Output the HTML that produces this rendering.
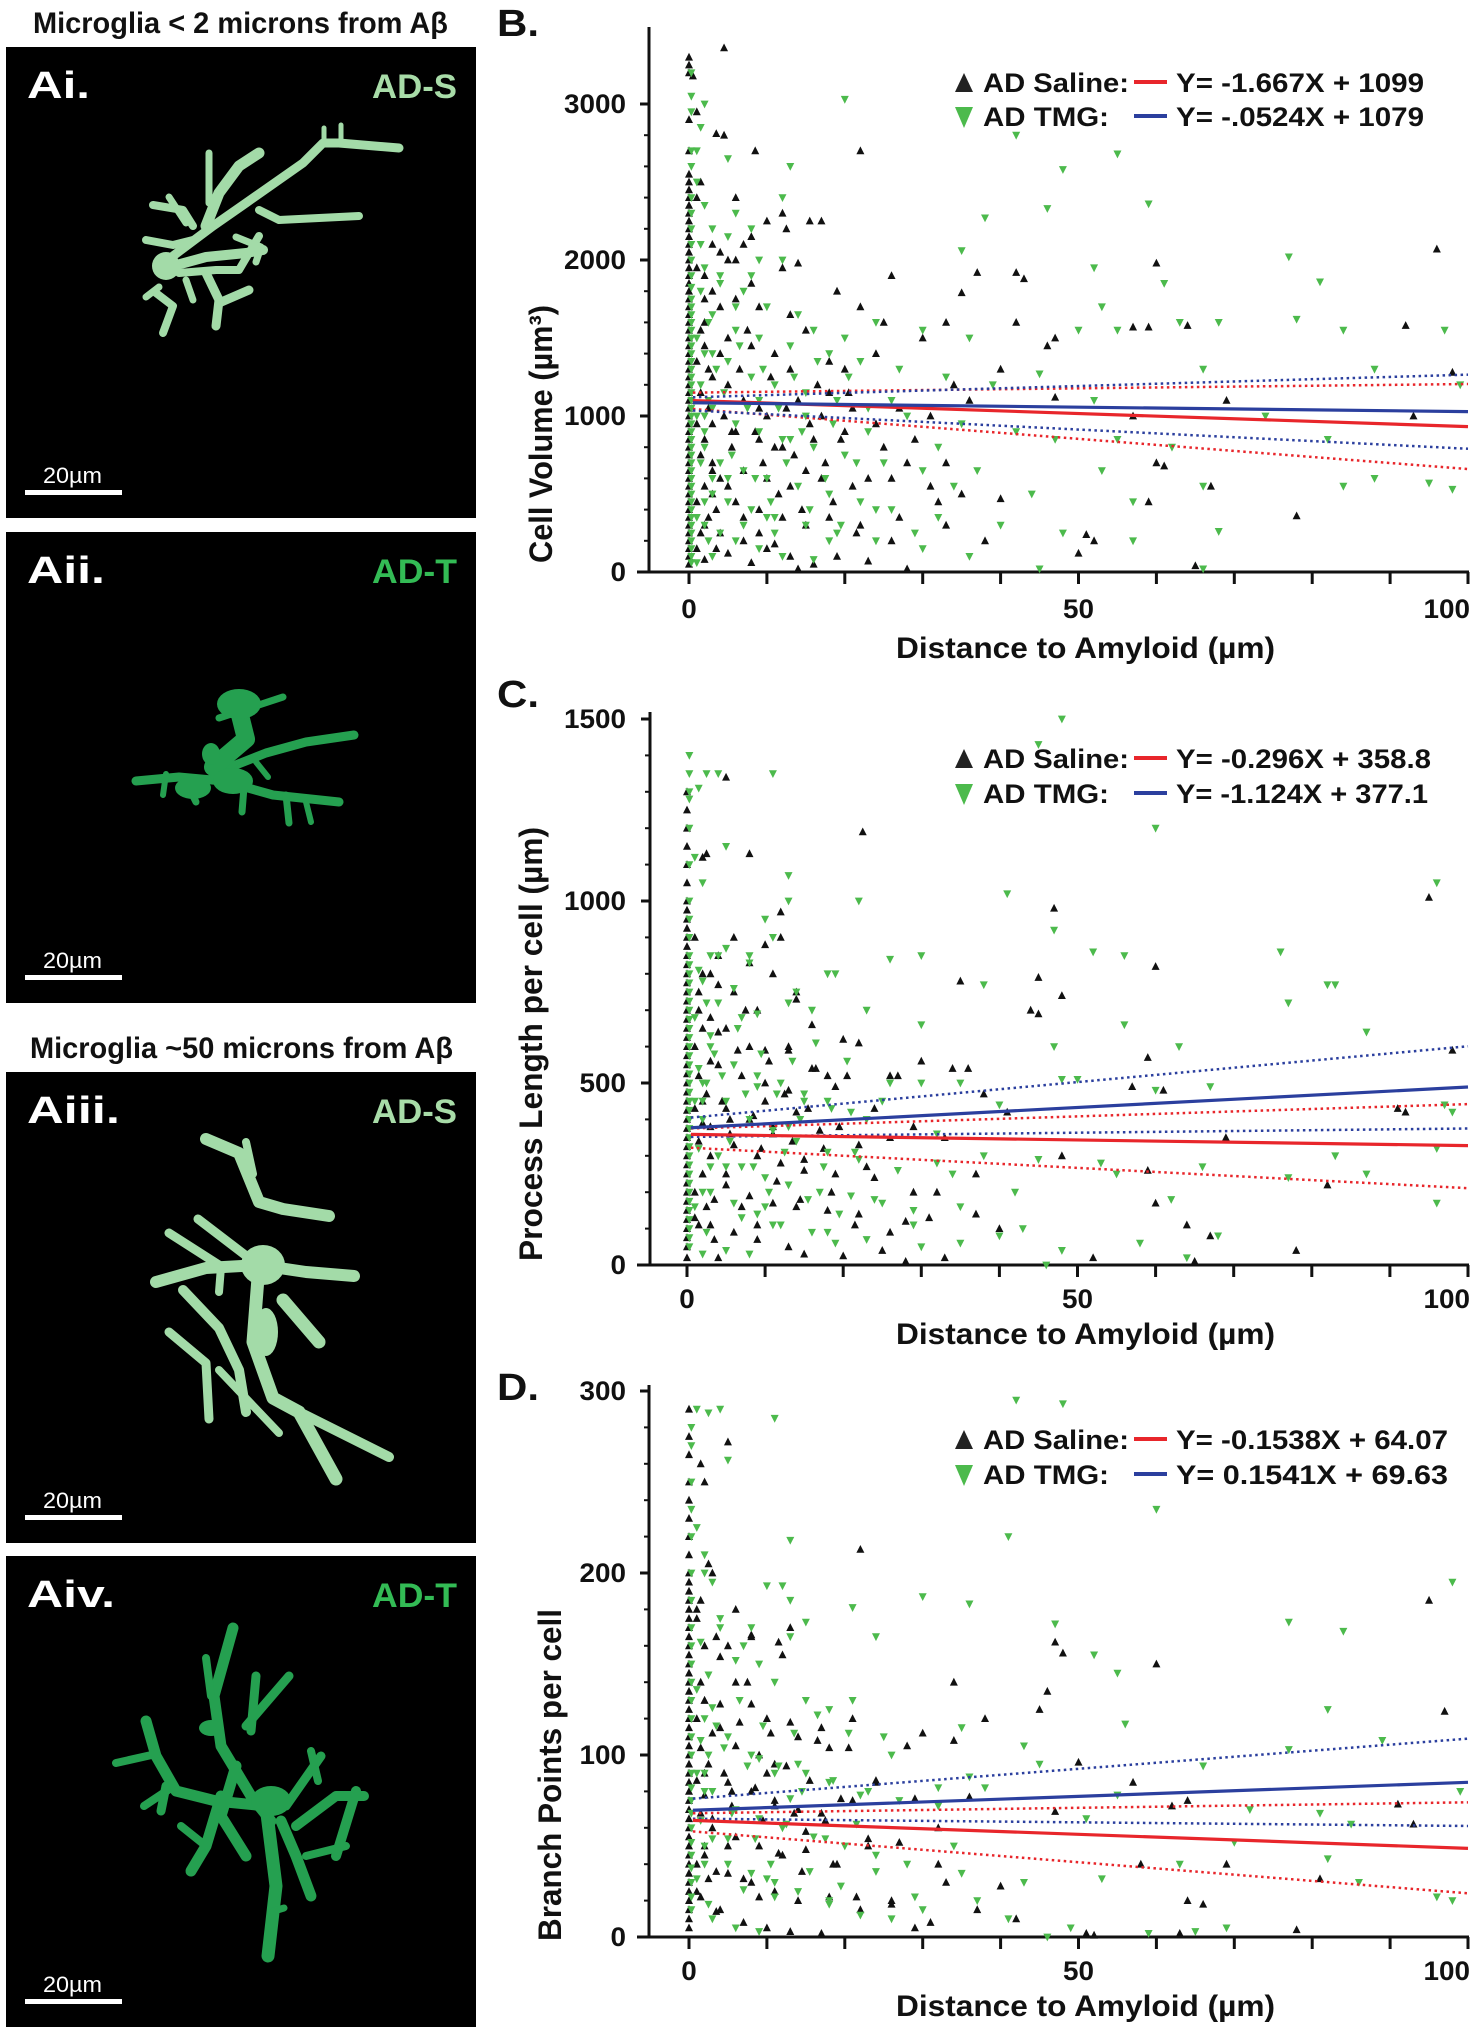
<!DOCTYPE html>
<html><head><meta charset="utf-8">
<style>
html,body{margin:0;padding:0;background:#fff;}
svg{display:block;}
text{font-family:"Liberation Sans",Arial,sans-serif;font-weight:bold;}
</style></head>
<body>
<svg id="fig" width="1477" height="2034" viewBox="0 0 1477 2034" xmlns="http://www.w3.org/2000/svg">
<rect x="0" y="0" width="1477" height="2034" fill="#fff"/>
<text x="33" y="33" font-size="30" textLength="415" lengthAdjust="spacingAndGlyphs" fill="#111">Microglia &lt; 2 microns from Aβ</text>
<text x="30" y="1058" font-size="30" textLength="423" lengthAdjust="spacingAndGlyphs" fill="#111">Microglia ~50  microns from Aβ</text>
<g id="panels"></g>
<g id="charts"></g>
</svg>
<script>
// ===== Chart B data (Cell Volume) =====
const bSalineX0 = [3300,3250,3200,2900,2700,2550,2500,2450,2400,2350,2300,2250,2200,2150,2100,2050,2000,1950,1900,1850,1800,1750,1700,1650,1600,1550,1500,1450,1400,1350,1300,1250,1200,1150,1100,1050,1000,950,900,850,800,750,700,650,600,550,500,450,400,350,300,250,200,150,100,50];
const bSaline = [[0.5,3180],[1,2950],[4.5,3360],[3.5,2810],[4.5,2800],[8.5,2700],[1.5,2500],[1,2400],[6,2400],[12,2300],[17,2250],[22,2700],[10,2250],[12.5,2200],[15.5,2250],[8,2150],[7,2100],[4,2050],[3,2100],[5,2000],[12,1950],[14,1980],[19,1800],[26,1900],[37,1920],[42,1920],[43,1880],[60,1980],[96,2070],[35,1790],[3,1800],[6,1750],[9,1700],[13,1650],[15,1550],[22,1700],[25,1600],[33,1600],[42,1600],[47,1500],[46,1450],[57,1570],[59,1570],[64,1580],[92,1580],[2,1600],[5,1500],[8,1450],[11,1400],[18,1350],[20,1300],[24,1400],[30,1500],[40,1300],[2.5,1300],[5,1200],[7,1100],[9,1050],[14,1100],[17,1000],[21,1050],[27,1050],[31,1000],[36,1100],[47,1120],[69,1100],[93,1000],[98,1280],[57,1000],[3,950],[6,900],[9,850],[12,800],[16,850],[20,900],[25,800],[28,700],[33,700],[3,700],[4,600],[7,650],[10,600],[13,550],[17,600],[21,550],[26,600],[31,550],[35,500],[40,470],[60,700],[61,680],[67,550],[3,500],[6,450],[9,400],[12,350],[15,300],[18,350],[22,300],[27,350],[33,300],[38,200],[59,450],[78,360],[51,240],[50,120],[2,300],[4,250],[7,200],[10,150],[13,100],[16,50],[19,100],[23,70],[28,20],[14,20],[65,40],[52,200],[1,150],[2,80],[5,120],[8,60],[11,180],
[1,1950],[2,1750],[1.5,1550],[2,1450],[1,1350],[3,1250],[1.5,1150],[2.5,1050],[1,950],[2,850],[1.5,750],[3,650],[2,550],[1,450],[2.5,350],[1.5,250],[3.5,150],[4,1400],[4.5,1000],[5.5,800],[6.5,1300],[7.5,1550],[8.5,900],[9.5,700],[10.5,1250],[11.5,500],[12.5,1050],[13.5,750],[14.5,400],[15.5,950],[16.5,1200],[17.5,700],[18.5,450],[19.5,850],[20.5,1150],[21.5,250],[23,600],[24,950],[26,200],[29,850],[32,450],[34,1200],[6,2000],[4,1700],[8,1850],[5,550],[7,350],[9,250],[11,800],[13,1300],[3.5,400],[5.5,900],[2,1900],[10,1000],[15,650],[18,1150]];
const bTmgX0 = [3200,3050,2950,2700,2600,2400,2300,2200,2100,2000,1900,1825,1750,1700,1650,1600,1550,1500,1450,1400,1350,1300,1250,1200,1150,1100,1050,1000,950,900,850,800,750,700,650,600,550,500,450,400,350,300,250,200,150,100,60];
const bTmg = [[2,3000],[1.5,2850],[1,2700],[5,2650],[13,2600],[20,3030],[42,2800],[12,2400],[48,2580],[55,2680],[38,2270],[46,2330],[59,2360],[6,2300],[8,2200],[3,2200],[1.5,2100],[5,2150],[9,2000],[12,2000],[35,2060],[52,1950],[61,1850],[77,2020],[81,1860],[2,1950],[4,1850],[7,1800],[10,1700],[14,1650],[16,1550],[20,1500],[24,1600],[30,1550],[36,1500],[50,1550],[53,1700],[55,1550],[63,1600],[68,1600],[78,1620],[84,1550],[97,1550],[3,1650],[6,1550],[9,1500],[13,1450],[18,1400],[22,1350],[27,1300],[33,1250],[39,1200],[45,1270],[52,1100],[66,1300],[88,1300],[99,1200],[2,1400],[5,1350],[8,1250],[11,1200],[15,1150],[19,1100],[23,1050],[28,1000],[35,950],[42,900],[47,850],[55,850],[62,800],[74,1000],[82,850],[3,1050],[6,950],[9,900],[12,850],[16,800],[20,750],[25,700],[30,650],[37,650],[44,500],[53,650],[57,450],[66,550],[84,550],[88,600],[95,570],[98,530],[2,800],[4,700],[7,650],[10,600],[14,550],[18,500],[22,450],[26,400],[32,350],[40,300],[48,250],[57,200],[68,260],[3,500],[5,450],[8,400],[11,350],[15,300],[19,250],[24,200],[30,150],[36,100],[45,20],[66,20],[2,300],[4,250],[6,200],[9,150],[12,100],[16,80],[1,60],[3,100],
[1,2500],[2,2350],[1.5,1800],[2.5,1600],[1,1500],[3,1400],[1.5,1200],[2.5,1100],[1,1000],[2,900],[1.5,700],[3,600],[2,450],[1,350],[2.5,200],[4,1900],[4.5,1150],[5.5,750],[6.5,1450],[7.5,1050],[8.5,600],[9.5,1300],[10.5,450],[11.5,1050],[12.5,700],[13.5,1250],[14.5,900],[15.5,400],[16.5,1350],[17.5,600],[18.5,950],[19.5,300],[20.5,1250],[21.5,700],[23,900],[24,400],[26,1100],[29,250],[32,800],[34,550],[6,1700],[8,1900],[5,600],[7,300],[9,1100],[11,250],[13,850],[3.5,1300],[2,1000],[10,350],[15,1000],[18,200]];
const bSalineFit = [1099, 932];
const bSalineCIUpper = [1150, 1205];
const bSalineCILower = [1045, 660];
const bTmgFit = [1085, 1028];
const bTmgCIUpper = [1120, 1265];
const bTmgCILower = [1035, 790];
const bYTicks = [0,1000,2000,3000];
const bXTicks = [0,50,100];
const bLegend = ["Y= -1.667X + 1099","Y= -.0524X + 1079"];

// ===== Chart C data (Process Length) =====
const cSalineX0 = [1300,1250,1200,1150,1100,1050,1000,975,950,925,900,875,850,825,800,775,750,725,700,675,650,625,600,575,550,525,500,475,450,425,400,375,350,325,300,275,250,225,200,175,150,125,100,75,50,20];
const cSaline = [[5,1340],[22.5,1190],[8,1130],[2,1120],[2.5,1130],[12,970],[47,980],[95,1010],[12,900],[10,880],[4,850],[3,800],[6,750],[9,700],[11,800],[14,750],[14,730],[35,780],[45,790],[48,740],[44,700],[45,690],[60,820],[1.5,750],[3,680],[5,650],[8,600],[10,590],[13,600],[16,660],[20,620],[22,610],[30,560],[36,540],[59,570],[98,590],[4,550],[7,520],[10,500],[13,480],[16,540],[19,490],[26,520],[27,520],[38,470],[57,490],[61,480],[91,430],[92,420],[2,450],[5,430],[8,400],[11,380],[14,420],[17,370],[22,330],[26,350],[33,350],[41,420],[48,300],[69,350],[3,380],[6,330],[9,300],[12,280],[15,260],[19,250],[24,240],[29,200],[37,250],[59,260],[82,220],[2,250],[5,220],[8,190],[11,170],[14,160],[18,150],[22,140],[28,120],[31,130],[37,140],[40,100],[60,170],[64,110],[67,80],[78,40],[1,130],[3,110],[6,90],[9,70],[13,50],[15,30],[20,25],[25,40],[28,10],[33,20],[52,20],[65,10],[4,20],
[1,900],[2,800],[1.5,700],[2,650],[1,600],[3,560],[1.5,520],[2.5,470],[1,430],[2,390],[1.5,340],[3,300],[2,250],[1,200],[2.5,160],[1.5,110],[3.5,70],[4,640],[4.5,450],[5.5,360],[6.5,590],[7.5,700],[8.5,410],[9.5,320],[10.5,560],[11.5,230],[12.5,470],[13.5,340],[14.5,180],[15.5,430],[16.5,540],[17.5,320],[18.5,200],[19.5,380],[20.5,520],[21.5,110],[23,270],[24,430],[26,90],[29,380],[32,200],[34,540],[6,900],[4,770],[8,830],[5,250],[7,160],[9,110],[11,360],[13,590],[3.5,180],[5.5,400],[10,450],[15,290],[18,520]];
const cTmgX0 = [1400,1350,1300,1280,1200,1100,1000,950,900,850,825,800,775,750,725,700,675,650,625,600,575,550,525,500,475,450,425,400,375,350,325,300,275,250,225,200,175,150,125,100,75,50];
const cTmg = [[48,1500],[45,1430],[2.5,1350],[4,1350],[11,1350],[1.5,1310],[5,1150],[13,1070],[13,1000],[22,1000],[41,1020],[60,1200],[96,1050],[10,950],[5,870],[3,850],[11,900],[8,830],[14,750],[18,800],[19,800],[26,840],[30,850],[47,920],[52,860],[56,850],[76,860],[82,770],[83,770],[77,720],[2,780],[4,720],[7,680],[9,690],[13,720],[16,700],[23,700],[30,660],[38,770],[47,600],[56,660],[63,600],[87,640],[3,600],[6,550],[9,520],[12,500],[15,470],[18,450],[21,420],[25,450],[30,500],[35,500],[40,440],[48,510],[50,510],[60,480],[67,490],[97,440],[98,420],[2,500],[5,450],[8,400],[11,370],[14,340],[18,310],[22,290],[27,260],[32,280],[38,300],[45,290],[53,280],[66,270],[83,300],[96,320],[4,300],[7,270],[10,240],[13,220],[17,200],[21,190],[25,170],[29,150],[35,160],[42,200],[55,250],[62,180],[77,240],[87,250],[96,170],[3,200],[6,170],[9,140],[12,110],[16,90],[19,60],[23,70],[30,50],[35,60],[40,80],[43,100],[48,40],[58,60],[68,80],[64,20],[46,0],[2,30],[5,40],[8,30],
[1,1120],[2,1050],[1.5,810],[2.5,720],[1,680],[3,630],[1.5,540],[2.5,500],[1,450],[2,400],[1.5,320],[3,270],[2,200],[1,160],[2.5,90],[4,850],[4.5,520],[5.5,340],[6.5,650],[7.5,470],[8.5,270],[9.5,580],[10.5,200],[11.5,470],[12.5,310],[13.5,560],[14.5,400],[15.5,180],[16.5,610],[17.5,270],[18.5,430],[19.5,140],[20.5,560],[21.5,310],[23,400],[24,180],[26,500],[29,110],[32,360],[34,250],[6,760],[8,850],[5,270],[7,130],[9,490],[11,110],[13,380],[3.5,580],[2,450],[10,160],[15,450],[18,90]];
const cSalineFit = [358.8, 328];
const cSalineCIUpper = [375, 442];
const cSalineCILower = [322, 211];
const cTmgFit = [377.1, 489];
const cTmgCIUpper = [405, 601];
const cTmgCILower = [352, 375];
const cYTicks = [0,500,1000,1500];
const cXTicks = [0,50,100];
const cLegend = ["Y= -0.296X + 358.8","Y= -1.124X + 377.1"];

// ===== Chart D data (Branch Points) =====
const dSalineX0 = [290,275,265,250,240,230,220,210,200,195,190,185,180,175,170,165,160,155,150,145,140,135,130,125,120,115,110,105,100,95,90,85,80,75,70,65,60,55,50,45,40,35,30,25,20,15,10,5];
const dSaline = [[5,272],[1.5,260],[2,250],[2.5,205],[3,200],[1.5,185],[1,180],[3.5,165],[5,160],[8,165],[11.5,162],[13,170],[12,155],[6,140],[8,128],[10,120],[22,213],[47,162],[48,156],[46,135],[38,120],[34,140],[45,125],[60,150],[95,185],[97,124],[2,130],[4,115],[6,105],[9,100],[11,95],[14,110],[17,115],[21,120],[30,112],[28,105],[50,96],[62,72],[57,85],[91,73],[2,90],[5,85],[8,80],[11,75],[14,70],[17,68],[21,75],[24,85],[32,60],[36,77],[47,69],[64,75],[93,62],[3,65],[6,55],[9,50],[12,45],[15,48],[19,40],[23,50],[27,52],[33,30],[40,28],[58,40],[69,40],[81,32],[2,45],[5,35],[8,30],[11,25],[14,20],[18,22],[22,15],[26,20],[31,8],[37,15],[42,10],[64,20],[66,18],[1,25],[4,15],[7,8],[10,5],[13,3],[17,2],[29,5],[51,2],[52,1],[63,2],[78,4],
[1,175],[2,160],[1.5,140],[2,130],[1,120],[3,112],[1.5,104],[2.5,95],[1,86],[2,78],[1.5,68],[3,60],[2,50],[1,40],[2.5,32],[1.5,22],[3.5,14],[4,128],[4.5,90],[5.5,72],[6.5,118],[7.5,140],[8.5,82],[9.5,64],[10.5,112],[11.5,46],[12.5,94],[13.5,68],[14.5,36],[15.5,86],[16.5,108],[17.5,64],[18.5,40],[19.5,76],[20.5,104],[21.5,22],[23,54],[24,86],[26,18],[29,76],[32,40],[34,108],[6,180],[4,154],[8,166],[5,50],[7,32],[9,22],[11,72],[13,118],[3.5,36],[5.5,80],[10,90],[15,58],[18,104]];
const dTmgX0 = [280,270,250,235,220,200,185,170,160,150,140,130,120,110,100,90,82,75,68,60,52,45,38,30,22,15];
const dTmg = [[1,290],[2.5,288],[4,290],[11,285],[42,295],[48,293],[5,262],[60,235],[41,220],[13,218],[2,200],[3,195],[12,193],[10,193],[13,185],[21,181],[30,187],[36,183],[15,173],[13,165],[24,165],[47,172],[52,155],[55,145],[77,173],[84,168],[98,195],[4,175],[7,160],[9,150],[11,140],[15,130],[18,125],[21,130],[25,110],[35,115],[43,105],[56,117],[82,125],[45,95],[66,94],[77,103],[89,108],[2,120],[5,110],[8,100],[11,90],[14,95],[18,85],[22,78],[27,75],[32,82],[36,88],[38,82],[51,65],[55,78],[72,70],[81,68],[85,62],[99,80],[3,80],[6,70],[9,65],[12,60],[16,55],[20,50],[24,45],[28,40],[35,35],[43,30],[53,32],[63,40],[70,52],[82,43],[86,30],[96,22],[98,20],[2,50],[5,40],[8,35],[11,30],[14,25],[18,20],[22,12],[26,10],[30,15],[37,20],[41,10],[46,0],[49,5],[59,2],[65,3],[69,5],[3,10],[6,5],[9,3],
[1,225],[2,210],[1.5,162],[2.5,144],[1,136],[3,126],[1.5,108],[2.5,100],[1,90],[2,80],[1.5,64],[3,54],[2,40],[1,32],[2.5,18],[4,170],[4.5,104],[5.5,68],[6.5,130],[7.5,94],[8.5,54],[9.5,116],[10.5,40],[11.5,94],[12.5,62],[13.5,112],[14.5,80],[15.5,36],[16.5,122],[17.5,54],[18.5,86],[19.5,28],[20.5,112],[21.5,62],[23,80],[24,36],[26,100],[29,22],[32,72],[34,50],[6,152],[8,170],[5,54],[7,26],[9,98],[11,22],[13,76],[3.5,116],[2,90],[10,32],[15,90],[18,18]];
const dSalineFit = [64.07, 48.7];
const dSalineCIUpper = [68, 74];
const dSalineCILower = [58, 24];
const dTmgFit = [69.63, 85];
const dTmgCIUpper = [76, 109];
const dTmgCILower = [65, 61];
const dYTicks = [0,100,200,300];
const dXTicks = [0,50,100];
const dLegend = ["Y= -0.1538X + 64.07","Y=  0.1541X + 69.63"];

const NS = "http://www.w3.org/2000/svg";
function mk(tag, attrs, parent){
  const e = document.createElementNS(NS, tag);
  for (const k in attrs) e.setAttribute(k, attrs[k]);
  if (parent) parent.appendChild(e);
  return e;
}

const charts = [
  {key:"b", letter:"B.", letterY:36, axisX:649, x0:689, x1:1468, y0:572, yTop:104, yMaxV:3000, top:27, minor:200,
   sX0:bSalineX0, s:bSaline, tX0:bTmgX0, t:bTmg, sFit:bSalineFit, sU:bSalineCIUpper, sL:bSalineCILower,
   tFit:bTmgFit, tU:bTmgCIUpper, tL:bTmgCILower, yTicks:bYTicks, xTicks:bXTicks, legend:bLegend,
   legY:[92,126], xLabY:618, xTitleY:658, yTitle:"Cell Volume (µm³)", yTitleX:540, yTitleY0:563, yTitleY1:305},
  {key:"c", letter:"C.", letterY:707, axisX:650, x0:687, x1:1468, y0:1265, yTop:719, yMaxV:1500, top:712, minor:100,
   sX0:cSalineX0, s:cSaline, tX0:cTmgX0, t:cTmg, sFit:cSalineFit, sU:cSalineCIUpper, sL:cSalineCILower,
   tFit:cTmgFit, tU:cTmgCIUpper, tL:cTmgCILower, yTicks:cYTicks, xTicks:cXTicks, legend:cLegend,
   legY:[768,803], xLabY:1308, xTitleY:1344, yTitle:"Process Length per cell (µm)", yTitleX:530, yTitleY0:1261, yTitleY1:827},
  {key:"d", letter:"D.", letterY:1400, axisX:649, x0:689, x1:1468, y0:1937, yTop:1391, yMaxV:300, top:1385, minor:20,
   sX0:dSalineX0, s:dSaline, tX0:dTmgX0, t:dTmg, sFit:dSalineFit, sU:dSalineCIUpper, sL:dSalineCILower,
   tFit:dTmgFit, tU:dTmgCIUpper, tL:dTmgCILower, yTicks:dYTicks, xTicks:dXTicks, legend:dLegend,
   legY:[1449,1484], xLabY:1980, xTitleY:2016, yTitle:"Branch Points per cell", yTitleX:549, yTitleY0:1941, yTitleY1:1609}
];

const root = document.getElementById('charts');
charts.forEach(c => {
  const sx = v => c.x0 + (c.x1 - c.x0) * v / 100;
  const sy = v => c.y0 - (c.y0 - c.yTop) * v / c.yMaxV;
  const g = mk('g', {}, root);
  
  

  const lt = mk('text', {x:497, y:c.letterY, 'font-size':38, fill:'#111', textLength:42, lengthAdjust:'spacingAndGlyphs'}, g);
  lt.textContent = c.letter;
  
  

  const ax = mk('g', {stroke:'#111', 'stroke-width':3, fill:'none'}, g);
  
  
  mk('line', {x1:c.axisX, y1:c.top, x2:c.axisX, y2:c.y0+1.5}, ax);
  mk('line', {x1:637, y1:c.y0, x2:c.x1+1, y2:c.y0}, ax);
  for (let v = 0; v <= c.yMaxV; v += c.minor) {
    const major = c.yTicks.indexOf(v) >= 0;
    mk('line', {x1:c.axisX - (major ? 9 : 5), y1:sy(v), x2:c.axisX, y2:sy(v), 'stroke-width': major ? 3 : 2}, ax);
  }
  for (let v = 0; v <= 100; v += 10) {
    mk('line', {x1:sx(v), y1:c.y0, x2:sx(v), y2:c.y0 + 12, 'stroke-width':3}, ax);
  }
  c.yTicks.forEach(v => {
    const s = String(v);
    const t = mk('text', {x:626, y:sy(v) + 9, 'font-size':27, 'text-anchor':'end', fill:'#111', textLength:s.length*15.5, lengthAdjust:'spacingAndGlyphs'}, g);
    t.textContent = s;
    
    
  });
  c.xTicks.forEach(v => {
    const s = String(v);
    const end = sx(v) > c.x1 - 20;
    const t = mk('text', {x: end ? c.x1 + 2 : sx(v), y:c.xLabY, 'font-size':27, 'text-anchor': end ? 'end' : 'middle', fill:'#111', textLength:s.length*15.5, lengthAdjust:'spacingAndGlyphs'}, g);
    t.textContent = s;
    
    
  });
  const xt = mk('text', {x:896, y:c.xTitleY, 'font-size':30, fill:'#111', textLength:379, lengthAdjust:'spacingAndGlyphs'}, g);
  xt.textContent = 'Distance to Amyloid (µm)';
  
  
  const yt = mk('text', {x:0, y:0, 'font-size':32, fill:'#111', textLength:(c.yTitleY0 - c.yTitleY1), lengthAdjust:'spacingAndGlyphs',
    transform:'translate(' + (c.yTitleX + 12) + ',' + c.yTitleY0 + ') rotate(-90)'}, g);
  yt.textContent = c.yTitle;
  
  

  const up = (x, y) => (x-4)+','+(y+3.4)+' '+(x+4)+','+(y+3.4)+' '+x+','+(y-4.4);
  const dn = (x, y) => (x-4)+','+(y-3.4)+' '+(x+4)+','+(y-3.4)+' '+x+','+(y+4.4);
  const gs = mk('g', {fill:'#111'}, g);
  
  
  const gt = mk('g', {fill:'#4cba4c'}, g);
  
  
  c.tX0.forEach(v => { const p = mk('polygon', {points: dn(sx(0.3), sy(v))}, gt);   });
  c.t.forEach(d => { const p = mk('polygon', {points: dn(sx(d[0]), sy(d[1]))}, gt);   });
  c.sX0.forEach(v => { const p = mk('polygon', {points: up(sx(0), sy(v))}, gs);   });
  c.s.forEach(d => { const p = mk('polygon', {points: up(sx(d[0]), sy(d[1]))}, gs);   });

  const line = (arr, col, dotted, name) => {
    const l = mk('line', {x1:sx(0.5), y1:sy(arr[0]), x2:sx(100), y2:sy(arr[1]), stroke:col,
      'stroke-width': dotted ? 2.5 : 3.2, 'stroke-dasharray': dotted ? '2.5 3.5' : 'none'}, g);
    
    
  };
  line(c.sU, '#e8262b', true, 'saline-ci-upper');
  line(c.sL, '#e8262b', true, 'saline-ci-lower');
  line(c.tU, '#2b3f9e', true, 'tmg-ci-upper');
  line(c.tL, '#2b3f9e', true, 'tmg-ci-lower');
  line(c.sFit, '#e8262b', false, 'saline-fit-line');
  line(c.tFit, '#2b3f9e', false, 'tmg-fit-line');

  const lg = mk('g', {}, g);
  
  
  const r1 = c.legY[0], r2 = c.legY[1];
  const tri1 = mk('polygon', {points:'955,'+r1+' 973,'+r1+' 964,'+(r1-19), fill:'#222'}, lg);
   
  const tri2 = mk('polygon', {points:'955,'+(r2-19)+' 973,'+(r2-19)+' 964,'+(r2+2), fill:'#4cba4c'}, lg);
   
  const a1 = mk('text', {x:983, y:r1, 'font-size':27, fill:'#111', textLength:146, lengthAdjust:'spacingAndGlyphs'}, lg);
  a1.textContent = 'AD Saline:';
   
  const a2 = mk('text', {x:983, y:r2, 'font-size':27, fill:'#111', textLength:126, lengthAdjust:'spacingAndGlyphs'}, lg);
  a2.textContent = 'AD TMG:';
   
  mk('line', {x1:1134, y1:r1-10, x2:1167, y2:r1-10, stroke:'#e8262b', 'stroke-width':4}, lg);
  mk('line', {x1:1134, y1:r2-10, x2:1167, y2:r2-10, stroke:'#2b3f9e', 'stroke-width':4}, lg);
  c.legend.forEach((s, i) => {
    const w = (c.key === 'd') ? 272 : (c.key === 'c' ? (i === 0 ? 255 : 252) : 248);
    const t = mk('text', {x:1176, y:c.legY[i], 'font-size':27, fill:'#111', textLength:w, lengthAdjust:'spacingAndGlyphs', 'xml:space':'preserve'}, lg);
    t.textContent = s;
    
    
  });
});

// ===== Microglia panels =====
const LIGHT = '#a3dba8', DARK = '#25a050';
const panels = [
  {id:'ai', label:'Ai.', tag:'AD-S', tagCol:'#a8dca8', col:LIGHT, top:47, lw:63,
   paths:[
    [[[167,209],[207,179],[240,156],[297,116],[317,96],[333,96],[393,101]],9],
    [[[318,96],[318,81]],5],[[[335,94],[335,78]],5],
    [[[200,179],[213,146],[233,119],[253,106]],11],
    [[[203,156],[203,106]],7],
    [[[253,163],[273,173],[353,169]],8],
    [[[147,158],[177,163],[187,179]],8],
    [[[163,150],[180,176]],7],
    [[[140,193],[167,198],[187,193]],8],
    [[[167,219],[200,210],[240,206],[257,203]],10],
    [[[173,226],[210,223],[233,223],[253,189]],8],
    [[[150,246],[167,259],[157,286]],8],
    [[[180,233],[187,253]],7],
    [[[200,226],[213,253],[210,279]],9],
    [[[213,256],[243,243]],9],
    [[[140,250],[153,240]],7],
    [[[230,190],[255,200],[250,215]],7]],
   blobs:[[160,219,14,14]]},
  {id:'aii', label:'Aii.', tag:'AD-T', tagCol:'#33bb55', col:DARK, top:532, lw:78,
   paths:[
    [[[130,249],[173,245],[217,249],[267,263],[333,270]],9],
    [[[207,242],[260,221],[300,210],[348,203]],9],
    [[[213,186],[277,165]],7],
    [[[207,235],[240,207],[233,179]],18],
    [[[160,242],[157,263]],6],[[[280,263],[283,291]],7],[[[300,270],[305,290]],6],[[[238,255],[236,280]],7],
    [[[180,250],[190,270]],7],[[[250,230],[262,245]],6]],
   blobs:[[233,172,22,15],[187,256,18,11],[227,249,20,13],[205,222,9,11]]},
  {id:'aiii', label:'Aiii.', tag:'AD-S', tagCol:'#a8dca8', col:LIGHT, top:1072, lw:93,
   paths:[
    [[[200,67],[233,81],[253,130],[277,137],[323,144]],12],
    [[[240,70],[247,102]],8],
    [[[150,210],[200,196],[253,193],[300,200],[348,204]],12],
    [[[163,161],[213,193]],9],
    [[[192,147],[243,186]],9],
    [[[253,193],[247,270],[267,326],[293,340],[330,407]],13],
    [[[293,340],[383,385]],10],
    [[[177,218],[213,256],[233,298],[240,340]],10],
    [[[163,260],[200,291],[203,347]],9],
    [[[213,298],[273,361]],8],
    [[[277,228],[313,270]],13],
    [[[215,195],[213,220]],8]],
   blobs:[[257,193,22,20],[260,260,12,24]]},
  {id:'aiv', label:'Aiv.', tag:'AD-T', tagCol:'#33bb55', col:DARK, top:1556, lw:88,
   paths:[
    [[[227,72],[208,140],[215,190],[245,240],[265,265]],11],
    [[[250,120],[245,175]],9],[[[283,120],[240,170]],9],[[[200,102],[205,140]],8],
    [[[140,165],[150,200],[170,235],[210,245],[260,250]],11],
    [[[110,207],[150,198]],8],[[[138,250],[165,232]],8],[[[155,255],[160,230]],9],
    [[[215,240],[200,290],[185,315]],11],[[[175,270],[200,290]],8],
    [[[260,250],[270,330],[262,400]],13],[[[268,355],[278,352]],7],
    [[[275,265],[290,300],[305,340]],11],
    [[[280,250],[315,200]],9],[[[305,195],[312,225]],8],
    [[[290,270],[330,240],[358,240]],10],[[[350,235],[330,300]],10],[[[300,300],[340,290]],8],
    [[[230,210],[215,260],[240,300]],11]],
   blobs:[[265,245,20,15],[205,172,12,8]]}
];
const pg = document.getElementById('panels');
panels.forEach(p => {
  const g = mk('g', {transform:'translate(6,' + p.top + ')'}, pg);
  
  
  mk('rect', {x:0, y:0, width:470, height:471, fill:'#000'}, g);
  const cell = mk('g', {fill:p.col, stroke:p.col, 'stroke-linecap':'round', 'stroke-linejoin':'round'}, g);
  
  
  p.paths.forEach(pp => {
    mk('polyline', {points: pp[0].map(q => q.join(',')).join(' '), fill:'none', 'stroke-width':pp[1]}, cell);
  });
  p.blobs.forEach(b => mk('ellipse', {cx:b[0], cy:b[1], rx:b[2], ry:b[3], stroke:'none'}, cell));
  const lab = mk('text', {x:21, y:51, 'font-size':38, fill:'#fff', textLength:p.lw, lengthAdjust:'spacingAndGlyphs'}, g);
  lab.textContent = p.label;
  
  
  const tag = mk('text', {x:451, y:51, 'font-size':34, 'text-anchor':'end', fill:p.tagCol, textLength:85, lengthAdjust:'spacingAndGlyphs'}, g);
  tag.textContent = p.tag;
  
  
  const sbt = mk('text', {x:37, y:436, 'font-size':22, fill:'#fff', textLength:59, lengthAdjust:'spacingAndGlyphs'}, g);
  sbt.style.fontWeight = 'normal';
  sbt.textContent = '20µm';
  
  
  const sb = mk('rect', {x:19, y:443, width:97, height:5, fill:'#fff'}, g);
  
  
});
</script>
</body></html>
